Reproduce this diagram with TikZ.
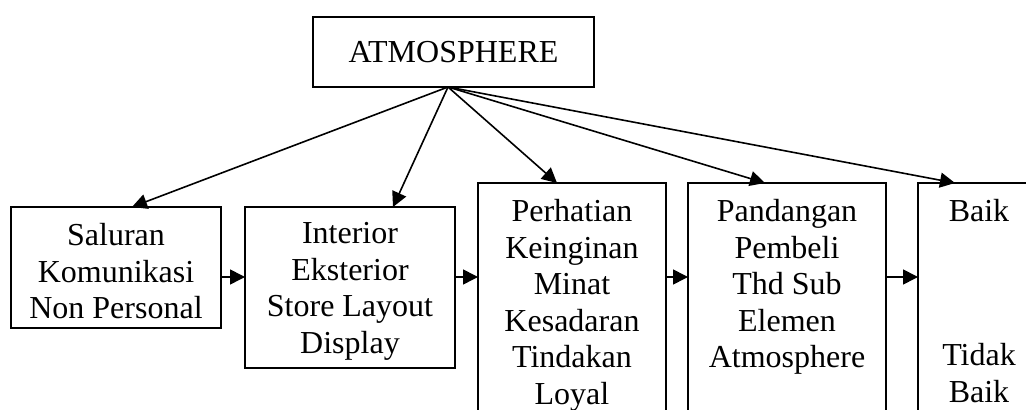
\documentclass[tikz,border=0pt]{standalone}
\usepackage{fontspec}
\setmainfont{Liberation Serif}
\usetikzlibrary{arrows.meta}
\usetikzlibrary{positioning}

\begin{document}
\begin{tikzpicture}[x=0.5pt, y=-0.5pt,
  box/.style={draw, line width=0.8pt, inner sep=0pt, outer sep=0pt},
  txt/.style={align=center, anchor=north, inner sep=0pt, font=\fontsize{16}{18.25}\selectfont},
  arr/.style={-{Triangle[length=7.5pt,width=7.5pt]}, line width=0.8pt}]
  \useasboundingbox (0,0) rectangle (1026,410);

  \node (atm) [box, minimum width=140.5pt, minimum height=35pt, font=\fontsize{16}{18.25}\selectfont] at (453.5,52) {ATMOSPHERE};
  \coordinate (hub) at ([xshift=-2.75pt]atm.south);

  \node (b1) [box, anchor=north west, minimum width=105pt, minimum height=60.5pt] at (11,207) {};
  \node (b2) [box, anchor=north west, minimum width=105pt, minimum height=80.5pt] at (245,207) {};
  \node (b3) [box, anchor=north west, minimum width=94pt, minimum height=128.5pt] at (478,183) {};
  \node (b4) [box, minimum width=99pt, minimum height=128.5pt, right=11pt of b3] {};
  \node (b5) [box, minimum width=61pt, minimum height=128.5pt, right=16pt of b4] {};

  \node (t1) [txt, below=8pt of b1.north] {Saluran\\Komunikasi\\Non Personal};
  \node (t2) [txt, below=7.5pt of b2.north] {Interior\\Eksterior\\Store Layout\\Display};
  \node (t3) [txt, below=8pt of b3.north] {Perhatian\\Keinginan\\Minat\\Kesadaran\\Tindakan\\Loyal};
  \node (t4) [txt, below=8pt of b4.north] {Pandangan\\Pembeli\\Thd Sub\\Elemen\\Atmosphere};
  \node (t5a) [txt, below=8pt of b5.north] {Baik};
  \node (t5b) [txt, below=80pt of b5.north] {Tidak\\Baik};

  % from the top box
  \draw [arr] (hub) -- ([xshift=8pt]b1.north);
  \draw [arr] (hub) -- ([xshift=21.5pt]b2.north);
  \draw [arr] (hub) -- ([xshift=-7.5pt]b3.north);
  \draw [arr] (hub) -- ([xshift=-11pt]b4.north);
  \draw [arr] (hub) -- ([xshift=-12pt]b5.north);

  % left to right
  \draw [arr] ([yshift=-4.75pt]b1.east) -- ([yshift=5.25pt]b2.west);
  \draw [arr] ([yshift=5.25pt]b2.east) -- ([yshift=17.25pt]b3.west);
  \draw [arr] ([yshift=17.25pt]b3.east) -- ([yshift=17.25pt]b4.west);
  \draw [arr] ([yshift=17.25pt]b4.east) -- ([yshift=17.25pt]b5.west);
\end{tikzpicture}
\end{document}
